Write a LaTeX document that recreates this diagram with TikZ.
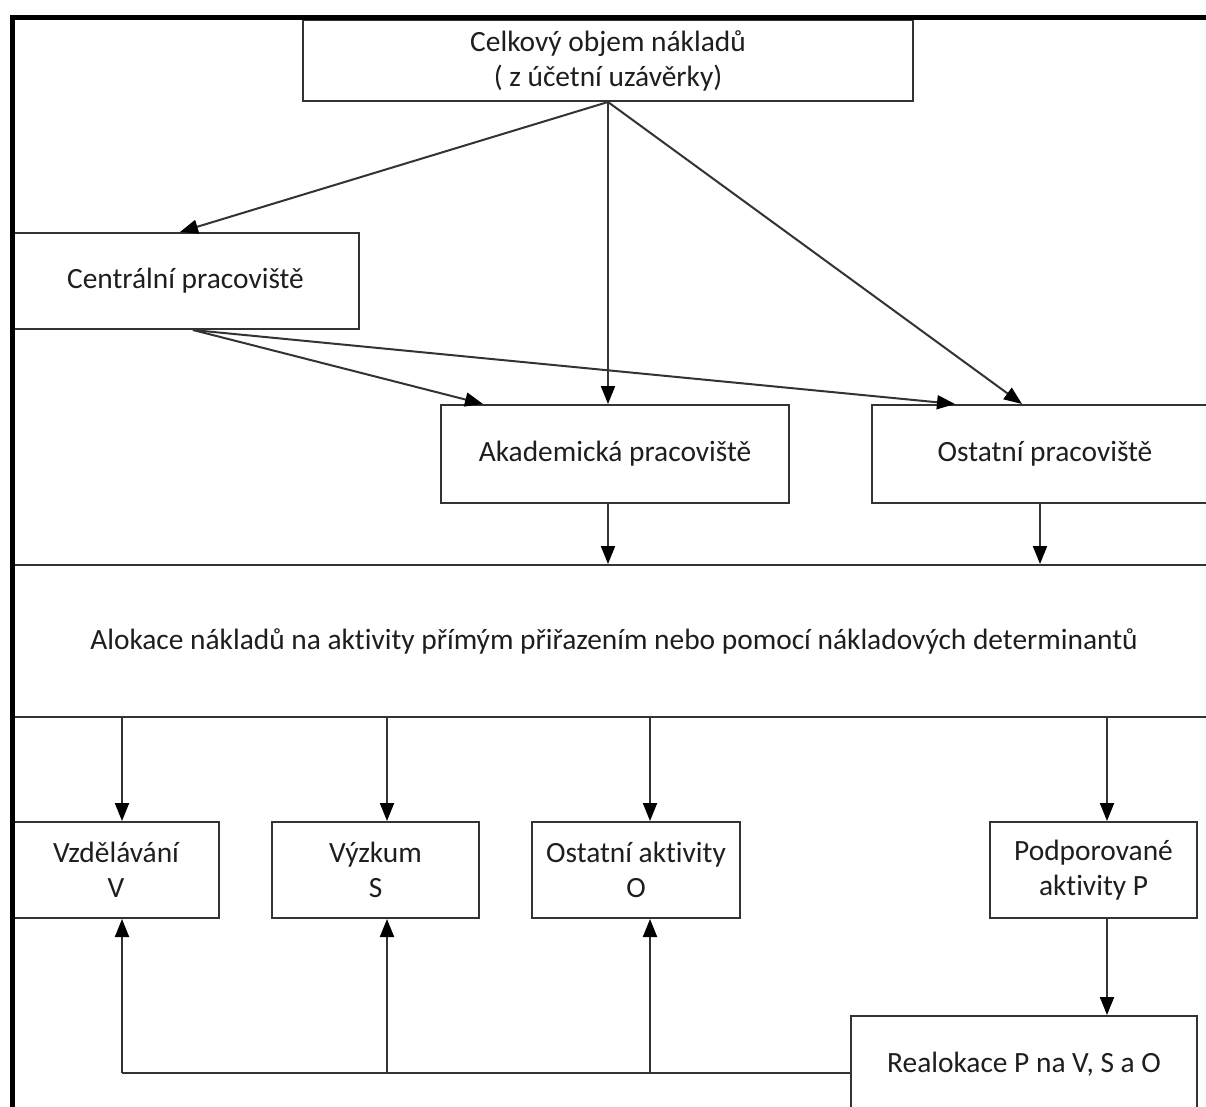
\documentclass[tikz,border=0pt]{standalone}
\usepackage{fontspec}
\setmainfont{Carlito}[Ligatures=NoCommon]
\usetikzlibrary{arrows.meta}
\definecolor{linec}{HTML}{333333}
\definecolor{textc}{HTML}{1E1E1E}
\begin{document}
\begin{tikzpicture}[x=1pt,y=-1pt,
  box/.style={draw=linec, line width=2pt, rectangle, inner sep=0pt,
    align=center, text=textc, font=\fontsize{29.4}{35}\selectfont},
  conn/.style={draw=linec, line width=2pt},
  arr/.style={conn, -{Triangle[length=18pt,width=14pt,color=black]}},
  frame/.style={draw=black, line width=5pt, line join=miter}]
\useasboundingbox (0,0) rectangle (1206,1106);
\clip (0,0) rectangle (1206,1106);
\fill[white] (0,0) rectangle (1206,1106);

% upper level: total costs and workplaces
\node[box, minimum width=610pt, minimum height=81pt] (total) at (608,60.5)
  {Celkový objem nákladů\\( z účetní uzávěrky)};
\node[box, minimum width=346pt, minimum height=96pt] (central) at (185.5,281)
  {Centrální pracoviště};
\node[box, minimum width=348pt, minimum height=98pt] (akad) at (615,454)
  {Akademická pracoviště};
\node[box, minimum width=346pt, minimum height=98pt] (ostpr) at (1045,454)
  {Ostatní pracoviště};

% allocation band
\node[box, minimum width=1204pt, minimum height=152pt] (band) at (614,641)
  {Alokace nákladů na aktivity přímým přiřazením nebo pomocí nákladových determinantů};

% activities
\node[box, minimum width=206pt, minimum height=96pt] (vzd) at (116,870)
  {Vzdělávání\\V};
\node[box, minimum width=207pt, minimum height=96pt] (vyz) at (375.5,870)
  {Výzkum\\S};
\node[box, minimum width=208pt, minimum height=96pt] (ostak) at (636,870)
  {Ostatní aktivity\\O};
\node[box, minimum width=207pt, minimum height=96pt] (podp) at (1093.5,870)
  {Podporované\\aktivity P};
\node[box, minimum width=346pt, minimum height=96pt] (realok) at (1024,1064)
  {Realokace P na V, S a O};

% outer frame
\draw[frame] (12.5,1110) -- (12.5,17.5) -- (1210,17.5);

% distribution of total costs
\draw[arr] (total.south) -- ([xshift=-5.5pt]central.north);
\draw[arr] (total.south) -- ([xshift=-7pt]akad.north);
\draw[arr] (total.south) -- ([xshift=-23pt]ostpr.north);
\draw[arr] ([xshift=7.5pt]central.south) -- ([xshift=-132pt]akad.north);
\draw[arr] ([xshift=7.5pt]central.south) -- ([xshift=-90pt]ostpr.north);

% workplaces into allocation
\draw[arr] ([xshift=-7pt]akad.south) -- ([xshift=-7pt]akad.south |- band.north);
\draw[arr] ([xshift=-5pt]ostpr.south) -- ([xshift=-5pt]ostpr.south |- band.north);

% allocation into activities
\draw[arr] ([xshift=6pt]vzd.north |- band.south) -- ([xshift=6pt]vzd.north);
\draw[arr] ([xshift=11.5pt]vyz.north |- band.south) -- ([xshift=11.5pt]vyz.north);
\draw[arr] ([xshift=14pt]ostak.north |- band.south) -- ([xshift=14pt]ostak.north);
\draw[arr] ([xshift=13.5pt]podp.north |- band.south) -- ([xshift=13.5pt]podp.north);

% reallocation of supported activities
\draw[arr] ([xshift=13.5pt]podp.south) -- ([xshift=13.5pt]podp.south |- realok.north);
\coordinate (rl) at ([yshift=-9pt]realok.west);
\draw[conn] (rl) -- ([xshift=6pt]vzd.south |- rl);
\draw[arr] ([xshift=6pt]vzd.south |- rl) -- ([xshift=6pt]vzd.south);
\draw[arr] ([xshift=11.5pt]vyz.south |- rl) -- ([xshift=11.5pt]vyz.south);
\draw[arr] ([xshift=14pt]ostak.south |- rl) -- ([xshift=14pt]ostak.south);
\end{tikzpicture}
\end{document}
